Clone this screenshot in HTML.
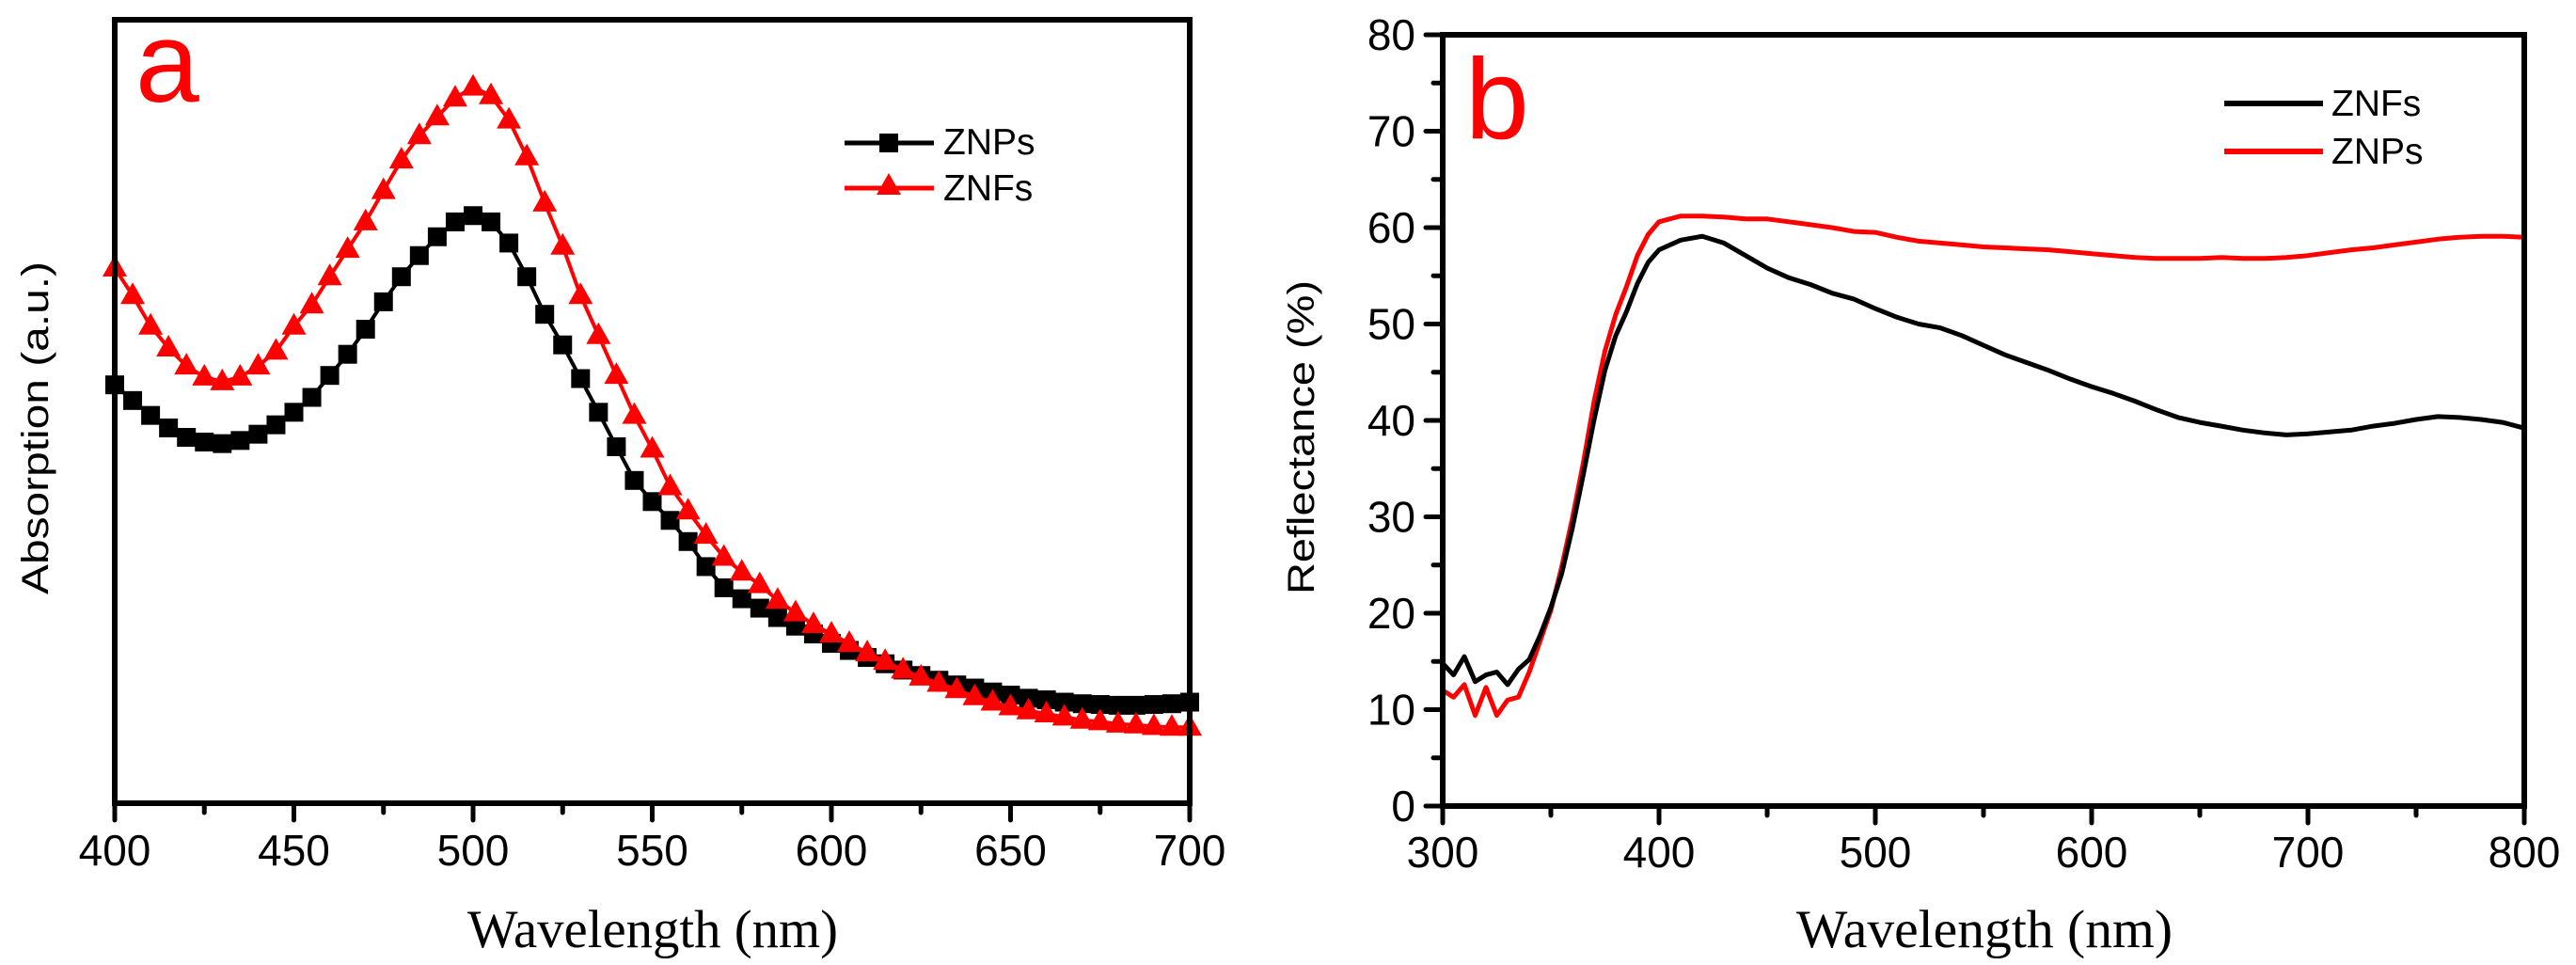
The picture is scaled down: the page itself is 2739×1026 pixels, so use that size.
<!DOCTYPE html>
<html><head><meta charset="utf-8">
<style>
html,body{margin:0;padding:0;background:#fff;}
svg{display:block;}
.tk{font-family:"Liberation Sans",Arial,sans-serif;font-size:46px;fill:#000;}
.lg{font-family:"Liberation Sans",Arial,sans-serif;font-size:39px;fill:#000;}
.ttl{font-family:"Liberation Serif","Times New Roman",serif;font-size:57px;fill:#000;}
.ytl{font-family:"Liberation Sans",Arial,sans-serif;font-size:40px;fill:#000;}
.pl{font-family:"Liberation Sans",Arial,sans-serif;font-size:122px;fill:#ff0000;}
</style></head>
<body>
<svg id="fig" width="2739" height="1026" viewBox="0 0 2739 1026" xmlns="http://www.w3.org/2000/svg">
<g id="pa"></g>
<g id="pb"></g>
</svg>
<script>
// ---------- Panel a data ----------
const aWavelength = [400,405,410,415,420,425,430,435,440,445,450,455,460,465,470,475,480,485,490,495,500,505,510,515,520,525,530,535,540,545,550,555,560,565,570,575,580,585,590,595,600,605,610,615,620,625,630,635,640,645,650,655,660,665,670,675,680,685,690,695,700];
const aZNPs = [53.4,51.4,49.5,47.9,46.7,46.1,45.9,46.3,47.1,48.3,49.9,51.8,54.6,57.3,60.5,64.0,67.2,69.9,72.3,74.2,75.0,74.2,71.5,67.2,62.4,58.5,54.2,49.9,45.5,41.2,38.5,36.1,33.4,30.2,27.5,26.1,24.9,23.7,22.6,21.6,20.4,19.5,18.6,17.8,17.0,16.3,15.7,15.1,14.7,14.2,13.8,13.4,13.2,12.9,12.7,12.6,12.5,12.5,12.6,12.7,12.9];
const aZNFs = [68.3,64.8,60.9,58.1,55.8,54.4,53.8,54.4,55.8,57.7,60.9,63.6,67.2,70.7,74.2,78.2,82.1,85.2,87.6,90.0,91.4,90.3,87.2,82.5,76.6,71.1,64.8,59.7,54.6,49.5,45.2,40.4,37.3,34.2,31.4,29.5,27.9,25.9,24.3,22.8,21.6,20.4,19.2,18.1,17.0,16.1,15.3,14.5,13.6,12.9,12.3,11.8,11.4,11.0,10.6,10.4,10.1,10.0,9.8,9.7,9.7];
const aXTicks = [400,450,500,550,600,650,700];
// ---------- Panel b data ----------
const bWavelength = [300,305,310,315,320,325,330,335,340,345,350,355,360,365,370,375,380,385,390,395,400,410,420,430,440,450,460,470,480,490,500,510,520,530,540,550,560,570,580,590,600,610,620,630,640,650,660,670,680,690,700,710,720,730,740,750,760,770,780,790,800];
const bZNFs = [14.8,13.6,15.5,12.9,13.6,13.9,12.6,14.2,15.2,17.7,20.6,24.1,28.9,34.4,40.1,45.2,48.8,51.3,54.2,56.4,57.7,58.7,59.1,58.4,57.1,55.8,54.8,54.1,53.2,52.6,51.6,50.7,50.0,49.6,48.8,47.8,46.8,46.0,45.2,44.3,43.5,42.8,42.0,41.1,40.3,39.8,39.4,39.0,38.7,38.5,38.6,38.8,39.0,39.4,39.7,40.1,40.4,40.3,40.1,39.8,39.2];
const bZNPs = [12.0,11.3,12.6,9.4,12.3,9.4,11.0,11.3,13.9,17.1,20.3,24.8,29.9,35.6,42.0,47.2,51.0,53.9,57.1,59.3,60.6,61.2,61.2,61.1,60.9,60.9,60.6,60.3,60.0,59.6,59.5,59.0,58.6,58.4,58.2,58.0,57.9,57.8,57.7,57.5,57.3,57.1,56.9,56.8,56.8,56.8,56.9,56.8,56.8,56.9,57.1,57.4,57.7,57.9,58.2,58.5,58.8,59.0,59.1,59.1,59.0];
const bXTicks = [300,400,500,600,700,800];
const bYTicks = [0,10,20,30,40,50,60,70,80];

const NS = "http://www.w3.org/2000/svg";
function mk(parent, tag, attrs){
  const e = document.createElementNS(NS, tag);
  for (const k in attrs) e.setAttribute(k, attrs[k]);
  parent.appendChild(e);
  return e;
}

// ===== Panel a =====
const pa = document.getElementById('pa');
const aL=122, aR=1265, aT=21, aB=854;
const ax = v => aL + (v-400)/300*(aR-aL);
const ay = v => aB - v/100*(aB-aT);

for (let v=400; v<=700; v+=25){
  const major = v%50===0;
  const t = mk(pa,'line',{x1:ax(v),x2:ax(v),y1:aB,y2:aB+(major?18:10),stroke:'#000','stroke-width':5,'stroke-linecap':'round'});
  
  
}
aXTicks.forEach(v=>{
  const t = mk(pa,'text',{x:ax(v),y:920,'text-anchor':'middle',class:'tk'});
  t.textContent = v;
  
  
});

function pathD(xs, ys, fx, fy){
  return xs.map((x,i)=>(i?'L':'M')+fx(x).toFixed(1)+','+fy(ys[i]).toFixed(1)).join(' ');
}
const lnA1 = mk(pa,'path',{d:pathD(aWavelength,aZNPs,ax,ay),fill:'none',stroke:'#000','stroke-width':4});


aWavelength.forEach((w,i)=>{
  const s = mk(pa,'rect',{x:ax(w)-10,y:ay(aZNPs[i])-10,width:20,height:20,fill:'#000'});
  
  
});
const lnA2 = mk(pa,'path',{d:pathD(aWavelength,aZNFs,ax,ay),fill:'none',stroke:'#ff0000','stroke-width':4});


function tri(cx,cy){ return `${cx},${cy-14} ${cx-13},${cy+9} ${cx+13},${cy+9}`; }
aWavelength.forEach((w,i)=>{
  const p = mk(pa,'polygon',{points:tri(ax(w),ay(aZNFs[i])),fill:'#ff0000'});
  
  
});
const fa = mk(pa,'rect',{x:aL,y:aT,width:aR-aL,height:aB-aT,fill:'none',stroke:'#000','stroke-width':6});


const la = mk(pa,'text',{x:144,y:108,class:'pl'}); la.textContent='a';


const lgA = mk(pa,'g',{});


const l1 = mk(lgA,'line',{x1:898,x2:993,y1:152,y2:152,stroke:'#000','stroke-width':5});


const l1m = mk(lgA,'rect',{x:935,y:142,width:20,height:20,fill:'#000'});


const l1t = mk(lgA,'text',{x:1003,y:164,class:'lg'}); l1t.textContent='ZNPs';


const l2 = mk(lgA,'line',{x1:898,x2:993,y1:200,y2:200,stroke:'#ff0000','stroke-width':5});


const l2m = mk(lgA,'polygon',{points:tri(945,198),fill:'#ff0000'});


const l2t = mk(lgA,'text',{x:1003,y:213,class:'lg'}); l2t.textContent='ZNFs';


const xta = mk(pa,'text',{x:694,y:1007,'text-anchor':'middle',class:'ttl',textLength:394,lengthAdjust:'spacingAndGlyphs'});
xta.textContent='Wavelength (nm)';


const yta = mk(pa,'text',{x:0,y:0,'text-anchor':'middle',class:'ytl',transform:'translate(51,455) rotate(-90)',textLength:354,lengthAdjust:'spacingAndGlyphs'});
yta.textContent='Absorption (a.u.)';



// ===== Panel b =====
const pb = document.getElementById('pb');
const bL=1534, bR=2684, bT=37, bB=857;
const bx = v => bL + (v-300)/500*(bR-bL);
const by = v => bB - v/80*(bB-bT);
for (let v=300; v<=800; v+=50){
  const major = v%100===0;
  const t = mk(pb,'line',{x1:bx(v),x2:bx(v),y1:bB,y2:bB+(major?18:10),stroke:'#000','stroke-width':5,'stroke-linecap':'round'});
  
  
}
for (let v=0; v<=80; v+=5){
  const major = v%10===0;
  const t = mk(pb,'line',{x1:bL,x2:bL-(major?18:10),y1:by(v),y2:by(v),stroke:'#000','stroke-width':5,'stroke-linecap':'round'});
  
  
}
bXTicks.forEach(v=>{
  const t = mk(pb,'text',{x:bx(v),y:922,'text-anchor':'middle',class:'tk'});
  t.textContent = v;
  
  
});
bYTicks.forEach(v=>{
  const t = mk(pb,'text',{x:1505,y:by(v)+16,'text-anchor':'end',class:'tk'});
  t.textContent = v;
  
  
});
const lnB2 = mk(pb,'path',{d:pathD(bWavelength,bZNPs,bx,by),fill:'none',stroke:'#ff0000','stroke-width':5,'stroke-linejoin':'round'});


const lnB1 = mk(pb,'path',{d:pathD(bWavelength,bZNFs,bx,by),fill:'none',stroke:'#000','stroke-width':5,'stroke-linejoin':'round'});


const fb = mk(pb,'rect',{x:bL,y:bT,width:bR-bL,height:bB-bT,fill:'none',stroke:'#000','stroke-width':6});


const lb = mk(pb,'text',{x:1558,y:147,class:'pl'}); lb.textContent='b';


const lgB = mk(pb,'g',{});


const m1 = mk(lgB,'line',{x1:2365,x2:2470,y1:110,y2:110,stroke:'#000','stroke-width':6});


const m1t = mk(lgB,'text',{x:2479,y:123,class:'lg'}); m1t.textContent='ZNFs';


const m2 = mk(lgB,'line',{x1:2365,x2:2470,y1:161,y2:161,stroke:'#ff0000','stroke-width':6});


const m2t = mk(lgB,'text',{x:2479,y:174,class:'lg'}); m2t.textContent='ZNPs';


const xtb = mk(pb,'text',{x:2110,y:1007,'text-anchor':'middle',class:'ttl',textLength:400,lengthAdjust:'spacingAndGlyphs'});
xtb.textContent='Wavelength (nm)';


const ytb = mk(pb,'text',{x:0,y:0,'text-anchor':'middle',class:'ytl',transform:'translate(1397,465) rotate(-90)',textLength:334,lengthAdjust:'spacingAndGlyphs'});
ytb.textContent='Reflectance (%)';


</script>
</body></html>
